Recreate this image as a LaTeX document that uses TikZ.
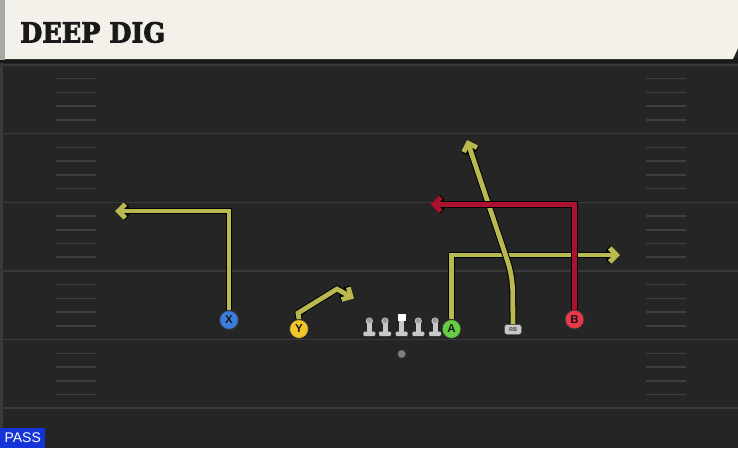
\documentclass[tikz,border=0pt]{standalone}
\usepackage{fontspec}
\setmainfont{Liberation Sans}
\newfontfamily\titlefont[BoldFeatures={FakeBold=3}]{DejaVu Serif}
\usetikzlibrary{arrows.meta}
\definecolor{fieldbg}{HTML}{252525}
\definecolor{fieldline}{HTML}{393939}
\definecolor{hashc}{HTML}{3E3E3E}
\definecolor{cream}{HTML}{F4F1EA}
\definecolor{headgray}{HTML}{A8AAA8}
\definecolor{routey}{HTML}{B9B94F}
\definecolor{router}{HTML}{AA1230}
\definecolor{xblue}{HTML}{3B7DDD}
\definecolor{yyellow}{HTML}{F2C62A}
\definecolor{agreen}{HTML}{66CC44}
\definecolor{bred}{HTML}{E8384A}
\definecolor{passblue}{HTML}{1434D8}
\definecolor{lgray}{HTML}{C8C8C8}
\definecolor{lhead}{HTML}{9C9C9C}
\tikzset{
  route/.style={draw=#1, line width=4.8pt, line join=miter,
    -{Straight Barb[length=7pt,width=14pt]},
    preaction={draw=black, line width=6.8pt, line join=miter,
      -{Straight Barb[length=7pt,width=14pt]}}},
  player/.style={circle, fill=#1, draw=black!80, line width=0.9pt,
    minimum size=19pt, inner sep=0pt, text=black!90,
    font=\bfseries\fontsize{11.5}{11.5}\selectfont},
  lman/.pic={
    \fill[lgray] (-2.5,0) rectangle (2.5,11);
    \fill[lgray, rounded corners=1.2pt] (-6,10.5) rectangle (6,15);
    \fill[lgray] (0,0) circle (3.6);
    \fill[lhead] (0,-0.5) circle (2.6);
  }
}
\begin{document}
\begin{tikzpicture}[x=1pt,y=-1pt]
\useasboundingbox (0,0) rectangle (738,448);
\fill[fieldbg] (0,0) rectangle (738,448);
\fill[fieldline] (0,60) rectangle (3,448);
% yard lines
\foreach \k in {0,...,5}{
  \pgfmathsetmacro{\yy}{65+68.65*\k}
  \draw[fieldline, line width=1.6pt] (3,\yy) -- (738,\yy);
}
% hash marks
\foreach \k in {0,...,4}{
  \foreach \j in {1,...,4}{
    \pgfmathsetmacro{\yy}{65+68.65*\k+13.73*\j}
    \draw[hashc, line width=1.5pt] (56,\yy) -- (96,\yy);
    \draw[hashc, line width=1.5pt] (646,\yy) -- (686,\yy);
  }
}
% header
\fill[black!90] (0,58) rectangle (738,63);
\fill[cream] (0,0) -- (738,0) -- (738,48) -- (733,59) -- (0,59) -- cycle;
\fill[headgray] (0,0) rectangle (5,60);
\node[anchor=base west, inner sep=0pt, text=black!90] (title) at (20,42.5)
  {\resizebox{145pt}{20.5pt}{\titlefont\bfseries DEEP DIG}};
% players
\node[player=xblue] (X) at (229,320) {X};
\node[player=yyellow] (Y) at (299,329) {Y};
\node[player=agreen] (A) at (451.5,329) {A};
\node[player=bred] (B) at (574.5,319.5) {B};
\node[fill=lgray, draw=black!70, line width=0.5pt, rounded corners=2.5pt,
  minimum width=17pt, minimum height=10pt, inner sep=0pt, text=black!75,
  font=\bfseries\fontsize{5.5}{5.5}\selectfont] (RB) at (513,329.5) {RB};
% line
\pic at (369.3,321) {lman};
\pic at (385,321) {lman};
\pic at (418.3,321) {lman};
\pic at (435,321) {lman};
\fill[lgray] (399.2,320) rectangle (404.2,332);
\fill[lgray, rounded corners=1.2pt] (395.7,331.5) rectangle (407.7,336);
\fill[white] (397.7,313.5) rectangle (405.7,321);
\node[circle, fill=black!50, draw=black!70, line width=0.5pt, minimum size=8pt,
  inner sep=0pt] (ball) at (401.7,354) {};
% routes
\coordinate (x1) at (229,211);
\coordinate (x2) at (115,211);
\draw[route=routey] (X.north) -- (x1) -- (x2);
\coordinate (y1) at (298,313);
\coordinate (y2) at (337,289);
\coordinate (y3) at (354,298.5);
\draw[route=routey] (Y.north) -- (y1) -- (y2) -- (y3);
\coordinate (a1) at (451.5,255);
\coordinate (a2) at (620,255);
\draw[route=routey] (A.north) -- (a1) -- (a2);
\coordinate (r1) at (512.7,290);
\coordinate (r2) at (506.5,258);
\coordinate (r3) at (467,140);
\draw[route=routey] (RB.north) -- (r1) .. controls (511.8,276) and (510,268) .. (r2) -- (r3);
\coordinate (b1) at (574.5,204.3);
\coordinate (b2) at (430.5,204.3);
\draw[route=router] (B.north) -- (b1) -- (b2);
% pass label
\node[fill=passblue, text=white, anchor=south west, minimum width=45pt,
  minimum height=20pt, inner sep=0pt, font=\fontsize{14}{14}\selectfont] (pass) at (0,448) {PASS};
\end{tikzpicture}
\end{document}
